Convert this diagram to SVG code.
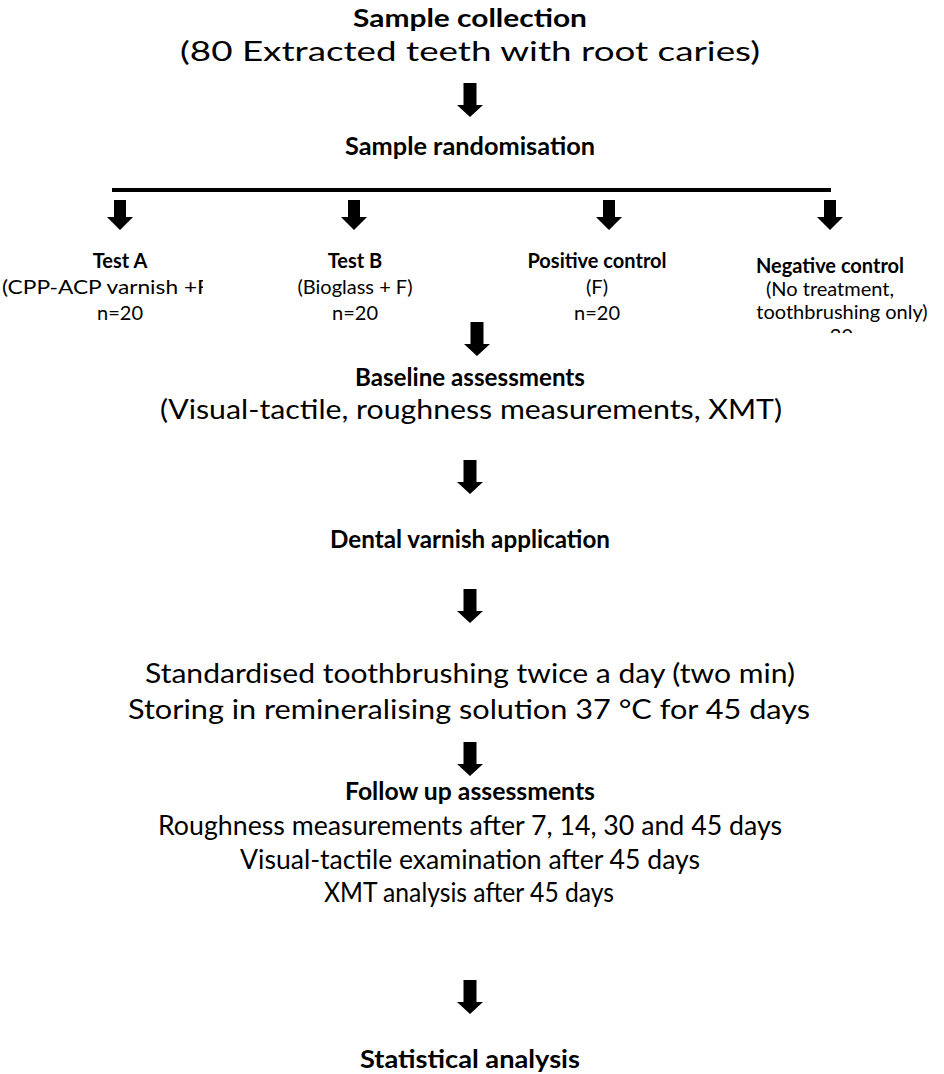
<svg xmlns="http://www.w3.org/2000/svg" xmlns:xlink="http://www.w3.org/1999/xlink" width="944" height="1074" viewBox="0 0 944 1074">
<style>
text{font-family:Lato,"Open Sans","Liberation Sans",sans-serif;fill:#000;text-anchor:middle}
.b{font-weight:bold}
.m{font-size:26px}
.mb{font-size:24px;font-weight:bold}
.s{font-size:20px}
.arrow{fill:#000}
</style>
<defs>
<path id="arr" d="M-6.5,0 H6.5 V22 H13 L0,34 L-13,22 H-6.5 Z"/>
<path id="arrS" d="M-6,0 H6 V17 H13 L0,30 L-13,17 H-6 Z"/>
<clipPath id="clipA"><rect x="0" y="240" width="203" height="100"/></clipPath>
<clipPath id="clipN"><rect x="700" y="240" width="244" height="93"/></clipPath>
</defs>
<rect width="944" height="1074" fill="#fff"/>
<g id="connectors" class="arrow">
<use xlink:href="#arr" x="470" y="83"/>
<rect x="112" y="188" width="719" height="4"/>
<use xlink:href="#arrS" x="120" y="200"/>
<use xlink:href="#arrS" x="354" y="200"/>
<use xlink:href="#arrS" x="609" y="200"/>
<use xlink:href="#arrS" x="830" y="200"/>
<use xlink:href="#arr" x="477" y="322"/>
<use xlink:href="#arr" x="470" y="460"/>
<use xlink:href="#arr" x="470" y="589"/>
<use xlink:href="#arr" x="470" y="742"/>
<use xlink:href="#arr" x="470" y="980"/>
</g>
<g id="sample-collection">
<text class="mb" x="470" y="27" textLength="234" lengthAdjust="spacingAndGlyphs">Sample collection</text>
<text class="m" x="470" y="61" textLength="580" lengthAdjust="spacingAndGlyphs">(80 Extracted teeth with root caries)</text>
</g>
<g id="sample-randomisation">
<text class="mb" x="470" y="155" textLength="250" lengthAdjust="spacingAndGlyphs">Sample randomisation</text>
</g>
<g id="test-a" clip-path="url(#clipA)">
<text class="s b" x="120" y="268">Test A</text>
<text class="s" x="2" y="294" style="text-anchor:start" textLength="214" lengthAdjust="spacingAndGlyphs">(CPP-ACP varnish +F)</text>
<text class="s" x="120" y="320">n=20</text>
</g>
<g id="test-b">
<text class="s b" x="355" y="268">Test B</text>
<text class="s" x="355" y="294">(Bioglass + F)</text>
<text class="s" x="355" y="320">n=20</text>
</g>
<g id="positive-control">
<text class="s b" x="597" y="268">Positive control</text>
<text class="s" x="597" y="294">(F)</text>
<text class="s" x="597" y="320">n=20</text>
</g>
<g id="negative-control" clip-path="url(#clipN)">
<text class="s b" x="830" y="273">Negative control</text>
<text class="s" x="830" y="296">(No treatment,</text>
<text class="s" x="842" y="319">toothbrushing only)</text>
<text class="s" x="830" y="343">n=20</text>
</g>
<g id="baseline">
<text class="mb" x="470" y="386" textLength="230" lengthAdjust="spacingAndGlyphs">Baseline assessments</text>
<text class="m" x="471" y="419" textLength="622" lengthAdjust="spacingAndGlyphs">(Visual-tactile, roughness measurements, XMT)</text>
</g>
<g id="dental-varnish">
<text class="mb" x="470" y="548" textLength="280" lengthAdjust="spacingAndGlyphs">Dental varnish application</text>
</g>
<g id="brushing">
<text class="m" x="470" y="683" textLength="650" lengthAdjust="spacingAndGlyphs">Standardised toothbrushing twice a day (two min)</text>
<text class="m" x="469" y="719" textLength="682" lengthAdjust="spacingAndGlyphs">Storing in remineralising solution 37 °C for 45 days</text>
</g>
<g id="follow-up">
<text class="mb" x="470" y="800" textLength="250" lengthAdjust="spacingAndGlyphs">Follow up assessments</text>
<text class="m" x="470" y="835" textLength="624" lengthAdjust="spacingAndGlyphs">Roughness measurements after 7, 14, 30 and 45 days</text>
<text class="m" x="470" y="869" textLength="460" lengthAdjust="spacingAndGlyphs">Visual-tactile examination after 45 days</text>
<text class="m" x="469" y="902" textLength="290" lengthAdjust="spacingAndGlyphs">XMT analysis after 45 days</text>
</g>
<g id="statistical-analysis">
<text class="mb" x="470" y="1068" textLength="220" lengthAdjust="spacingAndGlyphs">Statistical analysis</text>
</g>
</svg>
